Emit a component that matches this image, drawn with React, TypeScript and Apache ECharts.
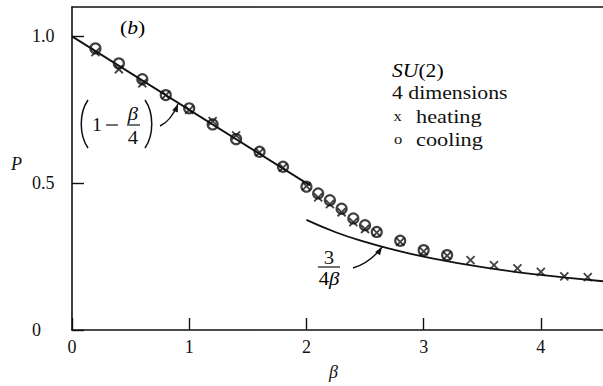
import { useEffect, useRef } from 'react';
import * as echarts from 'echarts';

// Monte Carlo data
const betaHeating = [0.2, 0.4, 0.6, 0.8, 1.0, 1.2, 1.4, 1.6, 1.8, 2.0, 2.1, 2.2, 2.3, 2.4, 2.5, 2.6, 2.8, 3.0, 3.2, 3.4, 3.6, 3.8, 4.0, 4.2, 4.4];
const pHeating = [0.946, 0.888, 0.84, 0.8, 0.75, 0.711, 0.663, 0.605, 0.553, 0.49, 0.452, 0.429, 0.401, 0.367, 0.344, 0.332, 0.3, 0.268, 0.253, 0.238, 0.221, 0.21, 0.198, 0.183, 0.18];
const betaCooling = [0.2, 0.4, 0.6, 0.8, 1.0, 1.2, 1.4, 1.6, 1.8, 2.0, 2.1, 2.2, 2.3, 2.4, 2.5, 2.6, 2.8, 3.0, 3.2];
const pCooling = [0.959, 0.908, 0.854, 0.8, 0.755, 0.7, 0.65, 0.607, 0.556, 0.488, 0.465, 0.442, 0.413, 0.38, 0.357, 0.334, 0.304, 0.272, 0.255];

// Strong-coupling curve (1 - beta/4), read at its ends
const linBeta = [0, 2.03];
const linP = [1.0, 0.4925];
// Weak-coupling curve 3/(4 beta)
const tailBeta = [2.0, 2.25, 2.5, 2.75, 3.0, 3.5, 4.0, 4.53];
const tailP = [0.375, 0.333, 0.3, 0.273, 0.25, 0.214, 0.1875, 0.166];

const FONT = '"Liberation Serif", "DejaVu Serif", serif';
const INK = '#111';

function pairs(xs: number[], ys: number[]) {
  return xs.map((x, i) => [x, ys[i]]);
}

function arrowHead(tipX: number, tipY: number, fromX: number, fromY: number) {
  const dx = tipX - fromX;
  const dy = tipY - fromY;
  const len = Math.sqrt(dx * dx + dy * dy);
  const ux = dx / len;
  const uy = dy / len;
  const L = 8;
  const W = 3;
  const bx = tipX - ux * L;
  const by = tipY - uy * L;
  return {
    type: 'polygon',
    shape: {
      points: [
        [tipX, tipY],
        [bx - uy * W, by + ux * W],
        [bx + uy * W, by - ux * W],
      ],
    },
    style: { fill: INK },
    silent: true,
  };
}

export default function App() {
  const ref = useRef<HTMLDivElement>(null);

  useEffect(() => {
    document.body.style.margin = '0';
    if (!ref.current) return;
    const chart = echarts.init(ref.current, null, { renderer: 'svg' });

    const txt = (x: number, y: number, text: string, extra: any = {}, sx = 1) => ({
      type: 'text',
      x,
      y,
      scaleX: sx,
      silent: true,
      style: {
        text,
        fontFamily: FONT,
        fontSize: 18,
        fill: INK,
        align: 'left',
        verticalAlign: 'middle',
        ...extra,
      },
    });

    const rich = {
      n: { fontFamily: FONT, fontSize: 18, color: INK },
      i: { fontFamily: FONT, fontSize: 18, fontStyle: 'italic', color: INK },
    };

    const option: any = {
      animation: false,
      backgroundColor: '#fff',
      grid: { left: 72, right: 0, top: 7, bottom: 56, containLabel: false, outerBoundsMode: 'none' },
      xAxis: [
        {
          type: 'value',
          min: 0,
          max: 4.53,
          interval: 1,
          name: 'β',
          nameLocation: 'middle',
          nameGap: 33,
          nameTextStyle: { fontFamily: FONT, fontSize: 18, fontStyle: 'italic', color: INK, padding: [0, 8, 0, 0] },
          axisLine: { show: true, onZero: false, lineStyle: { color: INK, width: 1.6 } },
          axisTick: { show: true, inside: true, length: 12, lineStyle: { color: INK, width: 1.4 } },
          axisLabel: {
            showMaxLabel: false,
            margin: 8,
            fontFamily: FONT,
            fontSize: 18,
            color: INK,
          },
          splitLine: { show: false },
        },
        {
          type: 'value',
          position: 'top',
          min: 0,
          max: 4.53,
          axisLine: { show: true, onZero: false, lineStyle: { color: INK, width: 1.6 } },
          axisTick: { show: false },
          axisLabel: { show: false },
          splitLine: { show: false },
        },
      ],
      yAxis: {
        type: 'value',
        min: 0,
        max: 1.1,
        interval: 0.5,
        name: 'P',
        nameLocation: 'middle',
        nameGap: 50,
        nameRotate: 0,
        nameTextStyle: {
          fontFamily: FONT,
          fontSize: 18,
          fontStyle: 'italic',
          color: INK,
          verticalAlign: 'bottom',
          lineHeight: 10,
        },
        axisLine: { show: true, onZero: false, lineStyle: { color: INK, width: 1.6 } },
        axisTick: { show: true, inside: true, length: 12, lineStyle: { color: INK, width: 1.4 } },
        axisLabel: {
          showMaxLabel: false,
          margin: 40,
          align: 'left',
          fontFamily: FONT,
          fontSize: 18,
          color: INK,
          formatter: (v: number) => (v === 0 ? '0' : v.toFixed(1)),
        },
        splitLine: { show: false },
      },
      series: [
        {
          name: '1 - β/4',
          type: 'line',
          data: pairs(linBeta, linP),
          symbol: 'none',
          lineStyle: { color: INK, width: 1.8 },
          z: 1,
        },
        {
          name: '3/(4β)',
          type: 'line',
          data: pairs(tailBeta, tailP),
          smooth: true,
          symbol: 'none',
          lineStyle: { color: INK, width: 1.8 },
          z: 1,
        },
        {
          name: 'cooling',
          type: 'scatter',
          data: pairs(betaCooling, pCooling),
          symbol: 'circle',
          symbolSize: 10,
          itemStyle: { color: 'rgba(0,0,0,0)', borderColor: INK, borderWidth: 2.2 },
          z: 3,
        },
        {
          name: 'heating',
          type: 'scatter',
          data: pairs(betaHeating, pHeating),
          symbol: 'path://M0,0L10,10M10,0L0,10',
          symbolSize: 8,
          itemStyle: { color: 'rgba(0,0,0,0)', borderColor: INK, borderWidth: 1.8 },
          z: 4,
        },
      ],
      graphic: [
        // panel label
        {
          type: 'text',
          x: 120,
          y: 28,
          scaleX: 1.2,
          silent: true,
          style: { text: '{n|(}{i|b}{n|)}', rich, verticalAlign: 'middle', align: 'left' },
        },
        // (1 - beta/4) annotation
        {
          type: 'bezierCurve',
          shape: { x1: 88, y1: 100, cpx1: 79, cpy1: 113, cpx2: 79, cpy2: 135, x2: 88, y2: 148 },
          style: { stroke: INK, lineWidth: 1.5, fill: 'none' },
          silent: true,
        },
        txt(92, 125, '1', {}, 1.1),
        {
          type: 'line',
          shape: { x1: 106, y1: 125, x2: 118, y2: 125 },
          style: { stroke: INK, lineWidth: 1.2 },
          silent: true,
        },
        txt(133, 114, 'β', { align: 'center', fontStyle: 'italic' }, 1.15),
        {
          type: 'line',
          shape: { x1: 127, y1: 125, x2: 140, y2: 125 },
          style: { stroke: INK, lineWidth: 1.2 },
          silent: true,
        },
        txt(133, 138, '4', { align: 'center' }, 1.15),
        {
          type: 'bezierCurve',
          shape: { x1: 145, y1: 100, cpx1: 154, cpy1: 113, cpx2: 154, cpy2: 135, x2: 145, y2: 148 },
          style: { stroke: INK, lineWidth: 1.5, fill: 'none' },
          silent: true,
        },
        {
          type: 'bezierCurve',
          shape: { x1: 160, y1: 126, cpx1: 171, cpy1: 121, x2: 178, y2: 104 },
          style: { stroke: INK, lineWidth: 1.4, fill: 'none' },
          silent: true,
        },
        arrowHead(178, 104, 174, 114),
        // 3/(4 beta) annotation
        txt(329, 258, '3', { align: 'center' }, 1.15),
        {
          type: 'line',
          shape: { x1: 318, y1: 267, x2: 340, y2: 267 },
          style: { stroke: INK, lineWidth: 1.2 },
          silent: true,
        },
        {
          type: 'text',
          x: 329,
          y: 279,
          scaleX: 1.15,
          silent: true,
          style: { text: '{n|4}{i|β}', rich, verticalAlign: 'middle', align: 'center' },
        },
        {
          type: 'bezierCurve',
          shape: { x1: 353, y1: 268, cpx1: 370, cpy1: 263, x2: 382, y2: 247 },
          style: { stroke: INK, lineWidth: 1.4, fill: 'none' },
          silent: true,
        },
        arrowHead(382, 247, 376, 256),
        // legend block
        {
          type: 'text',
          x: 392,
          y: 71,
          scaleX: 1.2,
          silent: true,
          style: { text: '{i|SU}{n|(2)}', rich, verticalAlign: 'middle', align: 'left' },
        },
        txt(392, 93, '4 dimensions', {}, 1.21),
        txt(397.5, 116, 'x', { align: 'center', fontSize: 15 }, 1.1),
        txt(416, 117, 'heating', {}, 1.24),
        txt(398, 139, 'o', { align: 'center', fontSize: 15 }, 1.1),
        txt(416, 140, 'cooling', {}, 1.24),
      ],
    };

    chart.setOption(option);
    return () => chart.dispose();
  }, []);

  return (
    <div
      ref={ref}
      style={{ position: 'absolute', left: 0, top: 0, width: 603, height: 386, background: '#fff' }}
    />
  );
}
